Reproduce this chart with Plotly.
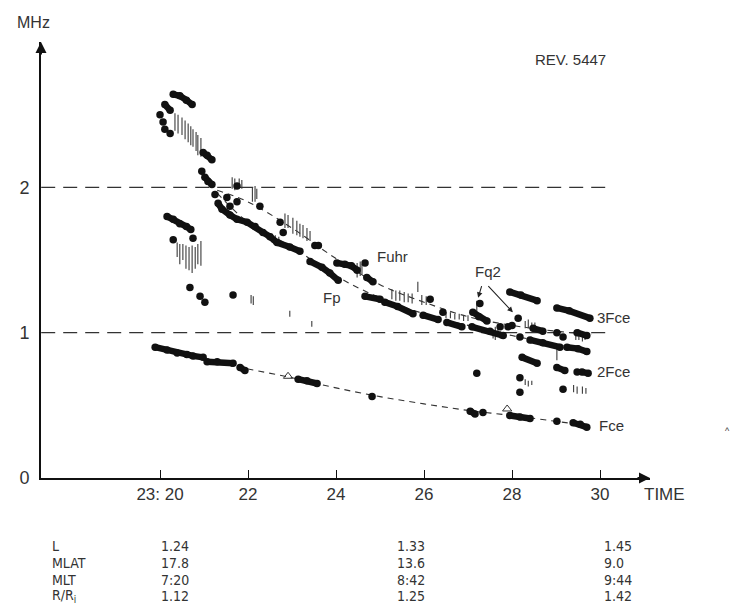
import plotly.graph_objects as go

# ---------------- data (time = minutes after 23:00 UT, frequency in MHz) -------------
x_tick_vals = [20, 22, 24, 26, 28, 30]
x_tick_text = ["23: 20", "22", "24", "26", "28", "30"]
y_tick_vals = [0, 1, 2]
y_tick_text = ["0", "1", "2"]

# reference levels (dashed horizontal lines)
ref_levels = [1, 2]
ref_t = [17.3, 30.18]

# isolated echo dots
dot_t = [20.0, 20.07, 20.11, 20.23, 20.95, 21.25, 21.52, 21.59, 21.75, 21.75, 22.27, 22.73,
         22.8, 23.52, 23.6, 20.75, 20.3, 20.68, 20.91, 21.02, 21.66, 24.66, 26.14, 26.43,
         27.27, 27.73, 27.91, 28.0, 28.14, 28.18, 29.02, 29.16, 27.2, 29.48, 28.18, 28.18,
         29.16, 24.82, 27.34, 29.02]
dot_f = [2.50, 2.45, 2.40, 2.37, 2.11, 1.95, 1.93, 1.87, 1.90, 2.01, 1.87, 1.76,
         1.69, 1.60, 1.60, 1.65, 1.64, 1.31, 1.25, 1.21, 1.26, 1.48, 1.23, 1.14,
         1.20, 1.04, 1.04, 1.05, 1.10, 0.97, 1.00, 0.97, 0.72, 0.73, 0.69, 0.59,
         0.61, 0.56, 0.45, 0.39]

# dense echo tracks (segments separated by None)
trk_t = [20.3, 20.45, 20.6, 20.73, None,
         20.11, 20.23, None,
         20.98, 21.07, 21.18, None,
         21.02, 21.09, 21.18, None,
         20.16, 20.3, 20.45, 20.6, 20.7, None,
         21.32, 21.41, 21.59, 21.75, 21.98, 22.16, 22.34, 22.5, 22.66, 22.95, 23.18, None,
         23.41, 23.68, 23.86, 24.05, None,
         24.66, 25.0, None,
         25.11, 25.4, 25.75, None,
         25.98, 26.32, None,
         26.52, 26.86, None,
         27.09, 27.5, 27.8, None,
         28.41, 28.7, 29.09, None,
         29.25, 29.5, 29.7, None,
         24.02, 24.2, 24.35, 24.48, None,
         24.7, 24.84, None,
         27.11, 27.25, 27.43, None,
         27.95, 28.2, 28.57, None,
         29.02, 29.3, 29.77, None,
         28.48, 28.7, None,
         29.48, 29.7, None,
         28.23, 28.57, None,
         29.02, 29.2, None,
         29.59, 29.73, None,
         19.89, 20.16, 20.39, 20.61, 20.75, 20.98, None,
         21.07, 21.3, 21.66, None,
         21.82, 21.93, None,
         23.14, 23.34, 23.57, None,
         27.05, 27.16, None,
         27.95, 28.18, 28.41, None,
         29.39, 29.55, 29.7]
trk_f = [2.64, 2.63, 2.60, 2.57, None,
         2.57, 2.53, None,
         2.24, 2.22, 2.19, None,
         2.07, 2.04, 2.02, None,
         1.80, 1.78, 1.75, 1.73, 1.71, None,
         1.89, 1.85, 1.81, 1.78, 1.76, 1.73, 1.69, 1.66, 1.62, 1.59, 1.56, None,
         1.49, 1.45, 1.41, 1.36, None,
         1.25, 1.23, None,
         1.21, 1.18, 1.13, None,
         1.12, 1.09, None,
         1.07, 1.04, None,
         1.04, 1.01, 0.98, None,
         0.95, 0.93, 0.90, None,
         0.90, 0.89, 0.87, None,
         1.48, 1.47, 1.46, 1.43, None,
         1.38, 1.35, None,
         1.14, 1.11, 1.08, None,
         1.28, 1.26, 1.22, None,
         1.17, 1.15, 1.10, None,
         1.03, 1.01, None,
         1.00, 0.98, None,
         0.83, 0.79, None,
         0.76, 0.74, None,
         0.73, 0.72, None,
         0.90, 0.88, 0.86, 0.85, 0.84, 0.83, None,
         0.80, 0.80, 0.79, None,
         0.76, 0.74, None,
         0.68, 0.67, 0.65, None,
         0.46, 0.44, None,
         0.43, 0.42, 0.41, None,
         0.38, 0.37, 0.35]

# diffuse (hatched) echoes: vertical frequency spans
bar_t = [20.34, 20.41, 20.5, 20.57, 20.64, 20.7, 20.75, 20.82, 20.86, 20.93,
         20.39, 20.45, 20.52, 20.59, 20.66, 20.73, 20.8, 20.86, 20.93,
         21.64, 21.7, 21.8, 21.86, 22.1, 22.16, 22.2,
         22.84, 22.91, 23.02, 23.11, 23.18, 23.25, 23.34, 23.41,
         22.07, 22.12, 22.95, 23.45,
         24.48, 24.55, 24.59,
         25.27, 25.36, 25.45, 25.55, 25.64, 25.73, 25.86, 25.95, 26.05,
         26.5, 26.6, 26.7, 26.8, 26.9, 27.0,
         27.2,
         27.57, 27.62, 27.68, 27.73,
         28.3, 28.37, 28.45, 28.52,
         29.45, 29.52, 29.6, 29.66,
         29.02,
         28.3, 28.37, 28.45,
         29.4, 29.48, 29.6, 29.68,
         22.55, 22.62, 22.7]
bar_hi = [2.51, 2.50, 2.48, 2.46, 2.44, 2.42, 2.40, 2.38, 2.36, 2.34,
          1.62, 1.61, 1.61, 1.60, 1.59, 1.60, 1.59, 1.61, 1.63,
          2.07, 2.06, 2.06, 2.05, 2.00, 2.01, 1.99,
          1.82, 1.81, 1.79, 1.77, 1.75, 1.74, 1.72, 1.70,
          1.26, 1.25, 1.15, 1.08,
          1.48, 1.49, 1.47,
          1.30, 1.29, 1.29, 1.28, 1.27, 1.27, 1.35, 1.26, 1.25,
          1.14, 1.14, 1.13, 1.13, 1.12, 1.12,
          1.22,
          1.02, 1.04, 1.03, 1.01,
          1.08, 1.09, 1.07, 1.07,
          1.01, 1.02, 1.01, 1.00,
          0.91,
          0.68, 0.67, 0.67,
          0.64, 0.63, 0.63, 0.62,
          1.68, 1.67, 1.66]
bar_lo = [2.39, 2.37, 2.36, 2.33, 2.31, 2.29, 2.28, 2.25, 2.22, 2.21,
          1.52, 1.47, 1.50, 1.44, 1.43, 1.41, 1.44, 1.47, 1.46,
          1.99, 1.98, 2.00, 1.99, 1.90, 1.90, 1.92,
          1.72, 1.72, 1.68, 1.67, 1.66, 1.65, 1.63, 1.63,
          1.20, 1.19, 1.11, 1.04,
          1.38, 1.39, 1.40,
          1.23, 1.22, 1.22, 1.21, 1.21, 1.20, 1.28, 1.19, 1.19,
          1.10, 1.10, 1.09, 1.09, 1.08, 1.08,
          1.12,
          0.96, 0.95, 0.97, 0.96,
          1.03, 1.03, 1.02, 1.03,
          0.95, 0.95, 0.94, 0.95,
          0.81,
          0.64, 0.63, 0.64,
          0.59, 0.58, 0.58, 0.58,
          1.62, 1.61, 1.60]

# open triangles
tri_t = [22.91, 27.89]
tri_f = [0.70, 0.475]

# model curves (dashed)
fce_t = [21.5, 22.0, 23.0, 24.0, 25.0, 26.0, 27.0, 28.0, 29.0, 29.75]
fce_f = [0.78, 0.75, 0.69, 0.62, 0.56, 0.51, 0.465, 0.43, 0.39, 0.36]
fp_t = [21.3, 22.0, 23.0, 24.0, 25.0, 26.0, 27.0, 28.0, 29.0, 29.75]
fp_f = [1.96, 1.76, 1.59, 1.39, 1.24, 1.13, 1.05, 0.98, 0.92, 0.875]
fuhr_t = [21.3, 22.0, 23.0, 24.0, 25.0, 26.0, 27.0, 28.0, 29.0, 29.8]
fuhr_f = [1.98, 1.90, 1.72, 1.51, 1.33, 1.21, 1.11, 1.05, 1.01, 0.99]

# orbit parameters table
tbl_rows = ["L", "MLAT", "MLT", "R/R<sub>i</sub>"]
tbl_col1 = ["1.24", "17.8", "7:20", "1.12"]
tbl_col2 = ["1.33", "13.6", "8:42", "1.25"]
tbl_col3 = ["1.45", "9.0", "9:44", "1.42"]

# ---------------- figure -------------
INK = "#111111"
TXT = "#333333"
FONT = "Liberation Sans, Arial, sans-serif"
NARROW = "Liberation Sans Narrow, Arial Narrow, DejaVu Sans Condensed, Liberation Sans, sans-serif"

W, H = 731, 606
L, R, T, B = 41, 81, 42, 128
PW, PH = W - L - R, H - T - B


def px(xp):
    return (xp - L) / PW


def py(yp):
    return (H - B - yp) / PH


fig = go.Figure()

# reference dashed levels
for lv in ref_levels:
    fig.add_trace(go.Scatter(x=ref_t, y=[lv, lv], mode="lines",
                             line=dict(color="#333333", width=1.3, dash="14px,8px"),
                             hoverinfo="skip", showlegend=False))

# model curves
for ct, cf in [(fce_t, fce_f), (fp_t, fp_f), (fuhr_t, fuhr_f)]:
    fig.add_trace(go.Scatter(x=ct, y=cf, mode="lines", line_shape="spline",
                             line=dict(color="#333333", width=1.1, dash="6px,5px"),
                             hoverinfo="skip", showlegend=False))

# hatched diffuse echoes
hx, hy = [], []
for t, lo, hi in zip(bar_t, bar_lo, bar_hi):
    hx += [t, t, None]
    hy += [lo, hi, None]
fig.add_trace(go.Scatter(x=hx, y=hy, mode="lines", line=dict(color="#3a3a3a", width=1.1),
                         hoverinfo="skip", showlegend=False))

# dense tracks
fig.add_trace(go.Scatter(x=trk_t, y=trk_f, mode="lines+markers",
                         line=dict(color=INK, width=6.5),
                         marker=dict(color=INK, size=7.5),
                         connectgaps=False, hoverinfo="skip", showlegend=False))

# isolated dots
fig.add_trace(go.Scatter(x=dot_t, y=dot_f, mode="markers",
                         marker=dict(color=INK, size=7.5),
                         hoverinfo="skip", showlegend=False))

# triangles
fig.add_trace(go.Scatter(x=tri_t, y=tri_f, mode="markers",
                         marker=dict(symbol="triangle-up-open", color="#333333", size=8,
                                     line=dict(width=1)),
                         hoverinfo="skip", showlegend=False))

ann = []


def text(xp, yp, s, size=15, xanchor="center", font=FONT):
    ann.append(dict(x=px(xp), y=py(yp), xref="paper", yref="paper", text=s,
                    showarrow=False, xanchor=xanchor, yanchor="middle",
                    font=dict(family=font, size=size, color=TXT)))


text(33, 22, "MHz", 16)
text(570, 60, "REV. 5447", 15)
text(392, 256, "Fuhr", 15)
text(332, 297, "Fp", 15)
text(488, 271, "Fq2", 15)
text(595, 317, "3Fce", 15, "left")
text(595, 371, "2Fce", 15, "left")
text(597, 425, "Fce", 15, "left")
text(664, 494, "TIME", 17)
text(727, 431, "^", 9)

rows_y = [546, 563, 580, 596]
for yy, lab, a, b, c in zip(rows_y, tbl_rows, tbl_col1, tbl_col2, tbl_col3):
    text(50, yy, lab, 14, "left", NARROW)
    text(159, yy, a, 14, "left", NARROW)
    text(395, yy, b, 14, "left", NARROW)
    text(602, yy, c, 14, "left", NARROW)

# Fq2 arrows
for (tx, tf), (sx, sf) in [((27.23, 1.24), (27.32, 1.33)), ((28.02, 1.14), (27.43, 1.33))]:
    ann.append(dict(x=tx, y=tf, ax=sx, ay=sf, xref="x", yref="y", axref="x", ayref="y",
                    text="", showarrow=True, arrowhead=2, arrowsize=1, arrowwidth=1.1,
                    arrowcolor="#222222"))

# axis arrow heads
ann.append(dict(x=1, y=0, xref="paper", yref="paper", ax=-14, ay=0, text="",
                showarrow=True, arrowhead=2, arrowsize=1.1, arrowwidth=2, arrowcolor=INK))
ann.append(dict(x=0, y=1, xref="paper", yref="paper", ax=0, ay=14, text="",
                showarrow=True, arrowhead=2, arrowsize=1.1, arrowwidth=2, arrowcolor=INK))

fig.update_layout(
    width=W, height=H,
    margin=dict(l=L, r=R, t=T, b=B, pad=0),
    paper_bgcolor="white", plot_bgcolor="white",
    showlegend=False,
    annotations=ann,
    font=dict(family=FONT, color=TXT),
    xaxis=dict(range=[20 - (160 - L) / 44, 20 + (650 - 160) / 44],
               showline=True, linecolor=INK, linewidth=2,
               ticks="inside", ticklen=8, tickwidth=1.3, tickcolor=INK,
               tickvals=x_tick_vals, ticktext=x_tick_text,
               tickfont=dict(size=17, color=TXT, family=FONT),
               showgrid=False, zeroline=False, fixedrange=True),
    yaxis=dict(range=[0, 3.0], showline=True, linecolor=INK, linewidth=2,
               ticks="", tickvals=y_tick_vals, ticktext=y_tick_text,
               tickfont=dict(size=18, color=TXT, family=FONT),
               ticklabelstandoff=6,
               showgrid=False, zeroline=False, fixedrange=True),
)

fig.write_html("out.html")
